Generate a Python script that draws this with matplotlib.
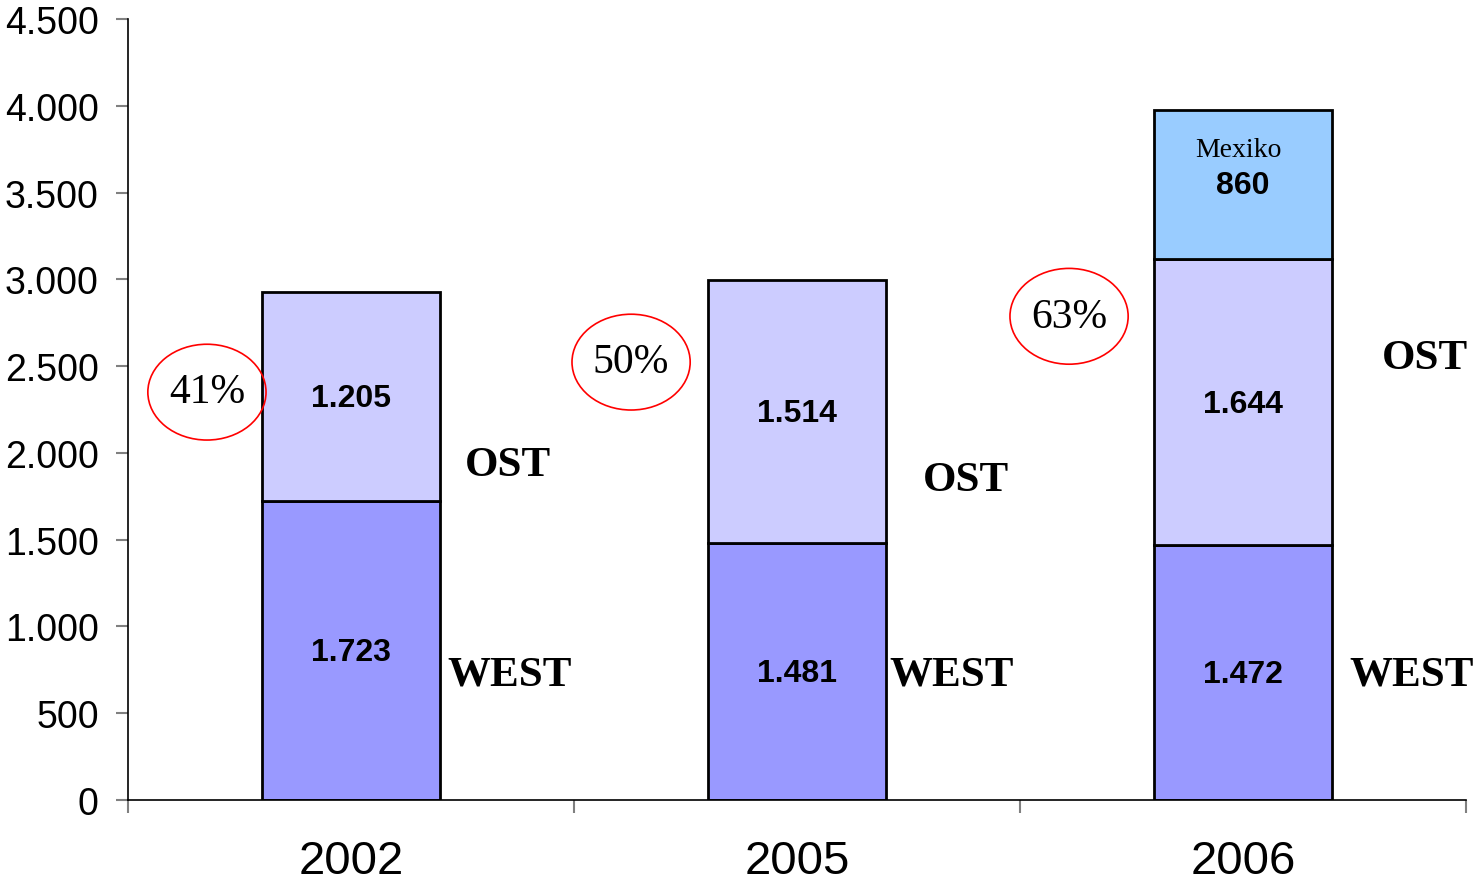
import matplotlib.pyplot as plt
from matplotlib.patches import Ellipse
from matplotlib.ticker import FuncFormatter, FixedLocator
import numpy as np

# data
years = ["2002", "2005", "2006"]
west = [1723, 1481, 1472]
ost = [1205, 1514, 1644]
mexiko = [0, 0, 860]
west_labels = ["1.723", "1.481", "1.472"]
ost_labels = ["1.205", "1.514", "1.644"]
shares = ["41%", "50%", "63%"]

plt.rcParams['font.family'] = ['Liberation Sans', 'DejaVu Sans']

fig = plt.figure(figsize=(14.74, 8.87), dpi=100)
ax = fig.add_axes([128 / 1474, 86 / 887, (1466 - 128) / 1474, (801 - 20) / 887])

x = np.arange(len(years))
w = 0.4
west_arr = np.array(west)
ost_arr = np.array(ost)
mex_arr = np.array(mexiko)

ax.bar(x, west_arr, w, color="#9999FF", edgecolor="black", linewidth=2, zorder=2)
ax.bar(x, ost_arr, w, bottom=west_arr, color="#CCCCFF", edgecolor="black", linewidth=2, zorder=2)
ax.bar(x[2:], mex_arr[2:], w, bottom=(west_arr + ost_arr)[2:], color="#99CCFF",
       edgecolor="black", linewidth=2, zorder=2)

# value labels inside the bars
for i in range(len(years)):
    ax.text(x[i], west[i] / 2 - 10, west_labels[i], ha="center", va="center",
            fontsize=23, fontweight="bold", zorder=3)
    ax.text(x[i], west[i] + ost[i] / 2 - 10, ost_labels[i], ha="center", va="center",
            fontsize=23, fontweight="bold", zorder=3)

top = west[2] + ost[2]
ax.text(x[2], top + mexiko[2] / 2, str(mexiko[2]), ha="center", va="center",
        fontsize=23, fontweight="bold", zorder=3)
ax.text(x[2] - 0.01, top + mexiko[2] / 2 + 200, "Mexiko", ha="center", va="center",
        fontsize=20, family="Liberation Serif", zorder=3)

# region names next to bars
serif = dict(fontsize=31, fontweight="bold", family="Liberation Serif",
             ha="center", va="center")
ost_pos = [(0.352, 1930), (1.379, 1844), (2.408, 2546)]
west_pos = [(0.355, 722), (1.347, 722), (2.379, 722)]
for (px, py) in ost_pos:
    ax.text(px, py, "OST", **serif)
for (px, py) in west_pos:
    ax.text(px, py, "WEST", **serif)

# share circles
circ_pos = [(-0.323, 2350), (0.628, 2523), (1.610, 2787)]
for (cx, cy), s in zip(circ_pos, shares):
    ax.add_patch(Ellipse((cx, cy), 0.265, 552, fill=False, edgecolor="red",
                         linewidth=1.2, zorder=4))
    ax.text(cx, cy, s, ha="center", va="center", fontsize=30,
            family="Liberation Serif", zorder=5)

ax.set_xlim(-0.5, 2.5)
ax.set_ylim(0, 4500)
ax.set_yticks(np.arange(0, 4501, 500))
ax.yaxis.set_major_formatter(FuncFormatter(lambda v, p: f"{int(v):,}".replace(",", ".")))
ax.tick_params(axis="y", direction="out", length=9, width=1.5, color="#808080",
               labelsize=27, pad=12)

ax.set_xticks(x)
ax.set_xticklabels(years)
ax.xaxis.set_minor_locator(FixedLocator([-0.5, 0.5, 1.5, 2.5]))
ax.tick_params(axis="x", which="major", length=0, labelsize=34, pad=28)
ax.tick_params(axis="x", which="minor", direction="out", length=9, width=1.5, color="#808080")

for s in ["top", "right"]:
    ax.spines[s].set_visible(False)
ax.spines["left"].set_linewidth(1.2)
ax.spines["bottom"].set_linewidth(1.2)

fig.savefig("out.png", dpi=100)
